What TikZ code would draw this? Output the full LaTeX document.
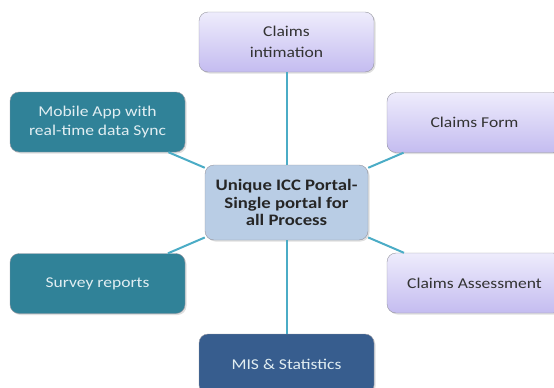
\documentclass[tikz,border=0pt]{standalone}
\usepackage{fontspec}
\setmainfont{Carlito}[FakeStretch=1.17]
\usepackage{xcolor}
\usetikzlibrary{shadows}

\definecolor{lavtop}{RGB}{238,236,252}
\definecolor{lavbot}{RGB}{196,188,240}
\definecolor{tealbox}{RGB}{48,130,152}
\definecolor{bluebox}{RGB}{55,93,142}
\definecolor{hubfill}{RGB}{185,205,229}
\definecolor{linkcol}{RGB}{75,172,198}
\definecolor{edgecol}{RGB}{150,150,160}
\definecolor{lighttext}{RGB}{225,238,242}

\tikzset{
  box/.style={draw=edgecol, rounded corners=9pt, minimum width=175pt, minimum height=60pt,
    align=center, font=\fontsize{15}{19}\selectfont, drop shadow={opacity=0.25, shadow xshift=1.5pt, shadow yshift=-1.5pt}},
  lavbox/.style={box, top color=lavtop, bottom color=lavbot, text=black!80},
  tealnode/.style={box, fill=tealbox, text=lighttext},
  link/.style={draw=linkcol, line width=2pt}
}

\begin{document}
\begin{tikzpicture}[x=1pt, y=-1pt]
        \useasboundingbox (0,0) rectangle (554,388);

        % Hub
        \node[box, fill=hubfill, minimum width=163pt, minimum height=75pt,
              font=\fontsize{16}{17.5}\selectfont\bfseries, text=black!85] (hub) at (286.5,202.5)
              {Unique ICC Portal-\\Single portal for\\all Process};

        % Top
        \node[lavbox, font=\fontsize{15}{20.5}\selectfont] (intimation) at (286.5,42) {Claims\\intimation};
        \draw[link] (hub) -- (intimation);

        % Left side
        \node[tealnode] (mobile) at (97.5,122) {Mobile App with\\real-time data Sync};
        \draw[link] (hub) -- (mobile);
        \node[tealnode] (survey) at (97.5,283.5) {Survey reports};
        \draw[link] (hub) -- (survey);

        % Right side
        \node[lavbox] (form) at (474.5,122.5) {Claims Form};
        \draw[link] (hub) -- (form);
        \node[lavbox] (assess) at (474.5,283) {Claims Assessment};
        \draw[link] (hub) -- (assess);

        % Bottom
        \node[box, fill=bluebox, text=lighttext] (mis) at (286.5,364) {MIS \& Statistics};
        \draw[link] (hub) -- (mis);
    \end{tikzpicture}
\end{document}
